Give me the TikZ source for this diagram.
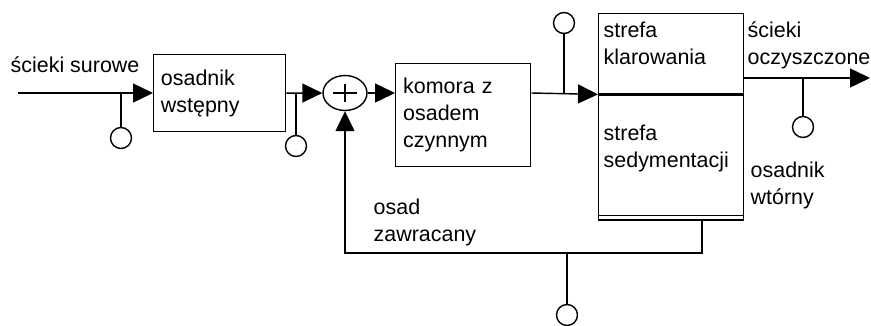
\documentclass[tikz,border=0pt]{standalone}
\usepackage{fontspec}
\setmainfont{Liberation Sans}
\usetikzlibrary{arrows.meta,positioning,shapes.geometric,calc}

\begin{document}
\begin{tikzpicture}[x=0.02cm, y=-0.02cm, line width=0.8pt,
  font=\fontsize{12.2}{15.5}\selectfont,
  blk/.style={draw, align=left, inner xsep=3.5pt, inner ysep=0pt},
  lbl/.style={align=left, inner sep=0pt, anchor=north west},
  probe/.style={draw, circle, minimum size=0.42cm, inner sep=0pt},
  arr/.style={-{Triangle[length=4mm, width=3.8mm]}}]
\useasboundingbox (0,0) rectangle (871,325);
% blocks
\node[blk, anchor=north west, minimum width=2.64cm, minimum height=1.54cm, text width=2.35cm] (b1) at (153,54) {osadnik\\wstępny};
\node[draw, ellipse, minimum width=0.88cm, minimum height=0.7cm, inner sep=0pt] (sum) at (345,93) {};
\node[blk, anchor=north west, minimum width=2.7cm, minimum height=2.06cm, text width=2.4cm] (b2) at (395,63) {komora z\\osadem\\czynnym};
\node[blk, anchor=north west, minimum width=2.9cm, minimum height=1.6cm] (klar) at (598,13) {};
\node[blk, below=0pt of klar, minimum width=2.9cm, minimum height=2.5cm] (sed) {};
\draw[line width=1.6pt] (klar.south west) -- (klar.south east);
\draw ([yshift=0.1cm]sed.south west) -- ([yshift=0.1cm]sed.south east);
\draw (sum.center) ++(-12,0) -- ++(24,0) (sum.center) ++(0,-9) -- ++(0,18);
% labels
\node[lbl] (klar-txt) at (603,21) {strefa\\klarowania};
\node[lbl] (sed-txt) at (603,124) {strefa\\sedymentacji};
\node[lbl] (raw) at (10,56) {ścieki surowe};
\node[lbl] (clean) at (747,21) {ścieki\\oczyszczone};
\node[lbl] (sec) at (750,161) {osadnik\\wtórny};
\node[lbl] (back) at (373,198) {osad\\zawracany};
% sampling points
\coordinate (inp) at (18,93);
\coordinate (p1) at (121,93);
\coordinate (p2) at (296,93);
\coordinate (p3) at (564,93);
\coordinate (p4) at (803,78);
\coordinate (outp) at (870,78);
\coordinate (p5) at (567,253);
\coordinate (ret) at ($(sed.south west)+(104,0)$);
\node[probe] (s1) at (121,138) {};
\node[probe] (s2) at (296,146) {};
\node[probe] (s3) at (564,23) {};
\node[probe] (s4) at (803,127) {};
\node[probe] (s5) at (567,315) {};
% flows
\draw[arr] (inp) -- (inp -| b1.west);
\draw[arr] (b1) -- (sum);
\draw[arr] (sum) -- (sum -| b2.west);
\draw[arr] (sum -| b2.east) -- (klar.south west);
\draw[arr] (klar.east |- p4) -- (outp);
\draw[arr] (ret) |- (p5) -| (sum.south);
\foreach \p/\c in {p1/s1,p2/s2,p3/s3,p4/s4,p5/s5} \draw (\p) -- (\c);
\end{tikzpicture}
\end{document}
